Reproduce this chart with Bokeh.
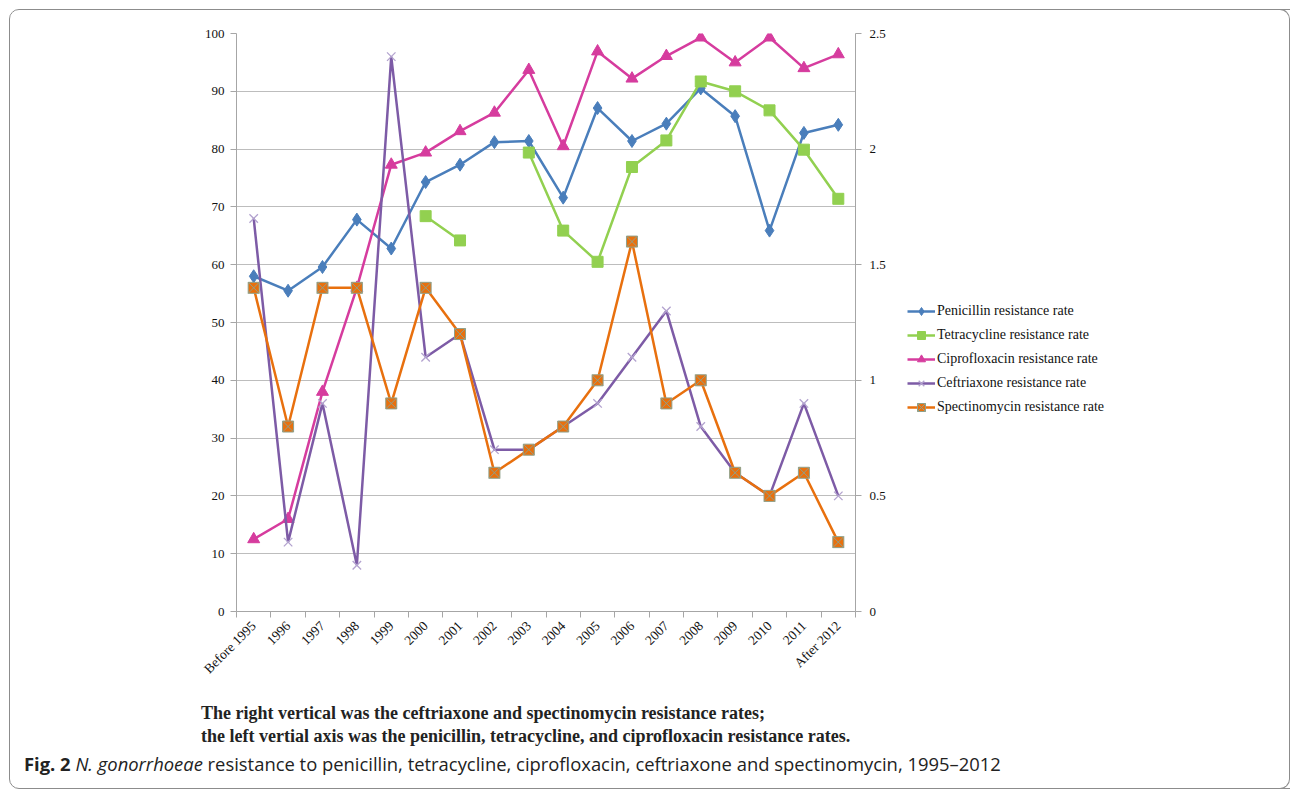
import math
from bokeh.plotting import figure
from bokeh.layouts import column
from bokeh.models import (Div, Legend, LegendItem, FixedTicker,
                          LinearAxis, Range1d, CustomJSTickFormatter)
from bokeh.embed import file_html
from bokeh.resources import INLINE

nan = float("nan")

categories = ["Before 1995", "1996", "1997", "1998", "1999", "2000", "2001", "2002", "2003",
              "2004", "2005", "2006", "2007", "2008", "2009", "2010", "2011", "After 2012"]

# left axis series (%)
penicillin = [58.0, 55.5, 59.6, 67.8, 62.8, 74.3, 77.3, 81.2, 81.4, 71.6, 87.1, 81.4,
              84.4, 90.5, 85.7, 65.9, 82.8, 84.2]
tetracycline = [nan, nan, nan, nan, nan, 68.4, 64.2, nan, 79.4, 65.9, 60.5, 76.9,
                81.5, 91.7, 90.0, 86.7, 79.9, 71.4]
ciprofloxacin = [12.5, 16.0, 38.0, 56.0, 77.3, 79.4, 83.1, 86.3, 93.7, 80.5, 96.9, 92.2,
                 96.1, 99.3, 95.0, 99.3, 94.0, 96.4]
# right axis series
ceftriaxone = [1.7, 0.3, 0.9, 0.2, 2.4, 1.1, 1.2, 0.7, 0.7, 0.8, 0.9, 1.1,
               1.3, 0.8, 0.6, 0.5, 0.9, 0.5]
spectinomycin = [1.4, 0.8, 1.4, 1.4, 0.9, 1.4, 1.2, 0.6, 0.7, 0.8, 1.0, 1.6,
                 0.9, 1.0, 0.6, 0.5, 0.6, 0.3]

left_ticks = [0, 10, 20, 30, 40, 50, 60, 70, 80, 90, 100]
right_ticks = [0, 0.5, 1, 1.5, 2, 2.5]

series_names = ["Penicillin resistance rate", "Tetracycline resistance rate",
                "Ciprofloxacin resistance rate", "Ceftriaxone resistance rate",
                "Spectinomycin resistance rate"]

caption1 = "The right vertical was the ceftriaxone and spectinomycin resistance rates;"
caption2 = "the left vertial axis was the penicillin, tetracycline, and ciprofloxacin resistance rates."
fig_bold = "Fig. 2"
fig_italic = "N. gonorrhoeae"
fig_rest = "resistance to penicillin, tetracycline, ciprofloxacin, ceftriaxone and spectinomycin, 1995\u20132012"

SERIF = "Liberation Serif"
x = list(range(len(categories)))

OFF = 10                    # page offset of the content inside the rounded box
W = 1280
H1 = 690 - OFF
H2 = 788 - 690

p = figure(frame_width=855 - 236, frame_height=611 - 33,
           output_backend="svg", toolbar_location=None,
           x_range=Range1d(-0.5, len(categories) - 0.5), y_range=Range1d(0, 100),
           min_border_left=236 - OFF, min_border_right=0,
           min_border_top=33 - OFF, min_border_bottom=H1 - (611 - OFF),
           x_axis_location=None, y_axis_location=None)
p.outline_line_color = None
p.background_fill_color = "white"
p.border_fill_color = "white"
p.extra_y_ranges = {"right": Range1d(0, 2.5)}

AX = "#A6A6A6"
xa = LinearAxis(ticker=FixedTicker(ticks=x, minor_ticks=[i - 0.5 for i in range(len(categories) + 1)]),
                major_label_overrides={i: c for i, c in enumerate(categories)})
xa.major_label_orientation = math.pi / 4
xa.major_tick_line_color = None
xa.minor_tick_out = 6
xa.minor_tick_in = 0
xa.minor_tick_line_color = AX
xa.axis_line_color = AX
xa.major_label_text_font = SERIF
xa.major_label_text_font_size = "13.5px"
xa.major_label_text_color = "#111111"
xa.major_label_standoff = 6
p.add_layout(xa, "below")

ya = LinearAxis(ticker=FixedTicker(ticks=left_ticks))
ya.major_tick_out = 6
ya.major_tick_in = 0
ya.minor_tick_line_color = None
ya.major_tick_line_color = AX
ya.axis_line_color = AX
ya.major_label_text_font = SERIF
ya.major_label_text_font_size = "13px"
ya.major_label_text_color = "#111111"
ya.major_label_standoff = 6
p.add_layout(ya, "left")

yr = LinearAxis(y_range_name="right", ticker=FixedTicker(ticks=right_ticks),
                formatter=CustomJSTickFormatter(code="return tick.toString();"))
yr.major_tick_out = 6
yr.major_tick_in = 0
yr.minor_tick_line_color = None
yr.major_tick_line_color = AX
yr.axis_line_color = AX
yr.major_label_text_font = SERIF
yr.major_label_text_font_size = "13px"
yr.major_label_text_color = "#111111"
yr.major_label_standoff = 8
p.add_layout(yr, "right")

p.xgrid.visible = False
p.ygrid.ticker = FixedTicker(ticks=left_ticks)
p.ygrid.grid_line_color = "#BDBDBD"
p.ygrid.grid_line_width = 1.2

BLUE = "#4A7EBB"
GREEN = "#92D050"
PINK = "#D63C9E"
PURPLE = "#7D5BA6"
ORANGE = "#E8700E"

items = []
r1 = p.line(x, penicillin, line_color=BLUE, line_width=2.5)
s1 = p.scatter(x, penicillin, marker="diamond", size=13, fill_color=BLUE, line_color=BLUE)
items.append(LegendItem(label=series_names[0], renderers=[r1, s1]))

r2 = p.line(x, tetracycline, line_color=GREEN, line_width=2.5)
s2 = p.scatter(x, tetracycline, marker="square", size=11, fill_color=GREEN, line_color=GREEN)
items.append(LegendItem(label=series_names[1], renderers=[r2, s2]))

r3 = p.line(x, ciprofloxacin, line_color=PINK, line_width=2.5)
s3 = p.scatter(x, ciprofloxacin, marker="triangle", size=12, fill_color=PINK, line_color=PINK)
items.append(LegendItem(label=series_names[2], renderers=[r3, s3]))

r4 = p.line(x, ceftriaxone, y_range_name="right", line_color=PURPLE, line_width=2.5)
s4 = p.scatter(x, ceftriaxone, y_range_name="right", marker="x", size=12,
               line_color="#B3A3CF", line_width=1.3)
items.append(LegendItem(label=series_names[3], renderers=[r4, s4]))

r5 = p.line(x, spectinomycin, y_range_name="right", line_color=ORANGE, line_width=2.5)
s5 = p.scatter(x, spectinomycin, y_range_name="right", marker="square_x", size=11,
               fill_color=ORANGE, line_color="#8FA08A", line_width=1)
items.append(LegendItem(label=series_names[4], renderers=[r5, s5]))

legend = Legend(items=items, location=(-217, 194))
legend.border_line_color = None
legend.background_fill_alpha = 0
legend.label_text_font = SERIF
legend.label_text_font_size = "14px"
legend.label_text_color = "#111111"
legend.glyph_width = 28
legend.glyph_height = 20
legend.spacing = 4
legend.label_standoff = 2
legend.padding = 0
legend.margin = 0
p.add_layout(legend, "right")

# captions below the chart (HTML text)
def line_div(left, top, size, family, inner, weight="normal"):
    return (f'<div style="position:absolute;left:{left}px;top:{top}px;white-space:nowrap;'
            f'font-family:{family};font-size:{size}px;line-height:20px;font-weight:{weight};">'
            f'{inner}</div>')

base = OFF + H1
# right edge of the rounded frame (page x = 1289), drawn as an overlay
edge = (f'<div style="position:absolute;left:{1270 - OFF}px;top:{9 - base}px;width:20px;'
        f'height:{788 - 9 + 1}px;border:1px solid #8C8C8C;border-left:none;'
        f'border-radius:0 10px 10px 0;box-sizing:border-box;pointer-events:none;'
        f'background:transparent;"></div>')
html = (f'<div style="position:relative;width:{W}px;height:{H2}px;">'
        + line_div(201 - OFF, 713 - base - 10, 18, "'Liberation Serif', serif",
                   caption1, "bold")
        + line_div(201 - OFF, 736 - base - 10, 18, "'Liberation Serif', serif",
                   caption2, "bold")
        + line_div(24 - OFF, 764 - base - 10, 18.4, "'Open Sans', sans-serif",
                   f'<b style="color:#222">{fig_bold}</b> <i>{fig_italic}</i> {fig_rest}')
        + edge
        + '</div>')
cap = Div(text=html, width=W, height=H2, margin=0,
          styles={"color": "#222222", "overflow": "visible"})

layout = column(p, cap, spacing=0, margin=(9, 0, 0, 9),
                styles={"border": "1px solid #8C8C8C", "border-radius": "10px",
                        "overflow": "hidden", "background-color": "white"})

open("out.html", "w").write(file_html(layout, INLINE))
